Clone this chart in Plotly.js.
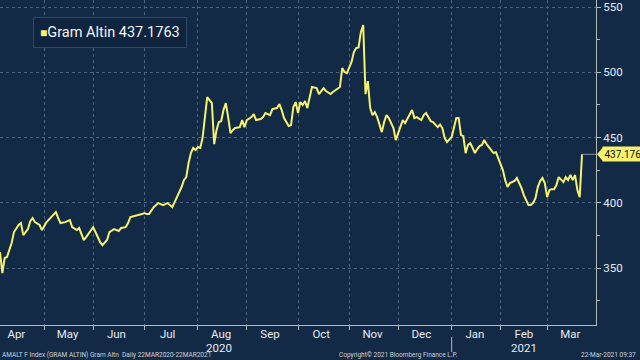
<!DOCTYPE html>
<html>
<head>
<meta charset="utf-8">
<script src="https://cdn.plot.ly/plotly-3.0.1.min.js"></script>
<style>
  html, body { margin: 0; padding: 0; background: #132a46; }
  #chart { width: 640px; height: 360px; }
</style>
</head>
<body>
<div id="chart"></div>
<script>
// ---- data ----
const dates = [
  '2020-04-06','2020-04-07','2020-04-08','2020-04-09','2020-04-13','2020-04-14','2020-04-16','2020-04-17',
  '2020-04-20','2020-04-21','2020-04-22','2020-04-23','2020-04-24','2020-04-27','2020-04-29','2020-04-30',
  '2020-05-04','2020-05-06','2020-05-08','2020-05-11','2020-05-12','2020-05-14','2020-05-18','2020-05-19',
  '2020-05-21','2020-05-22','2020-05-26','2020-05-27','2020-05-29','2020-06-01','2020-06-03','2020-06-04',
  '2020-06-05','2020-06-09','2020-06-10','2020-06-12','2020-06-16','2020-06-17','2020-06-19','2020-06-22',
  '2020-06-23','2020-06-25','2020-06-26','2020-06-30','2020-07-01','2020-07-02','2020-07-03','2020-07-07',
  '2020-07-09','2020-07-13','2020-07-15','2020-07-17','2020-07-20','2020-07-21','2020-07-23','2020-07-24',
  '2020-07-27','2020-07-28','2020-07-29','2020-07-30','2020-07-31','2020-08-03','2020-08-04','2020-08-05',
  '2020-08-06','2020-08-07','2020-08-10','2020-08-11','2020-08-12','2020-08-13','2020-08-14','2020-08-17',
  '2020-08-18','2020-08-19','2020-08-20','2020-08-21','2020-08-24','2020-08-25','2020-08-27','2020-08-28',
  '2020-08-31','2020-09-01','2020-09-03','2020-09-04','2020-09-07','2020-09-09','2020-09-10','2020-09-11',
  '2020-09-15','2020-09-16','2020-09-18','2020-09-21','2020-09-22','2020-09-23','2020-09-25','2020-09-28',
  '2020-09-29','2020-09-30','2020-10-01','2020-10-02','2020-10-05','2020-10-06','2020-10-07','2020-10-08',
  '2020-10-09','2020-10-13','2020-10-14','2020-10-15','2020-10-16','2020-10-19','2020-10-21','2020-10-22',
  '2020-10-23','2020-10-27','2020-10-28','2020-10-29','2020-10-30','2020-11-03','2020-11-04','2020-11-05',
  '2020-11-06','2020-11-09','2020-11-10','2020-11-11','2020-11-12','2020-11-13','2020-11-16','2020-11-17',
  '2020-11-18','2020-11-20','2020-11-23','2020-11-24','2020-11-25','2020-11-27','2020-11-30','2020-12-02',
  '2020-12-03','2020-12-04','2020-12-08','2020-12-09','2020-12-10','2020-12-11','2020-12-15','2020-12-16',
  '2020-12-17','2020-12-21','2020-12-22','2020-12-23','2020-12-24','2020-12-25','2020-12-28','2020-12-29',
  '2020-12-30','2021-01-01','2021-01-04','2021-01-05','2021-01-06','2021-01-07','2021-01-08','2021-01-11',
  '2021-01-12','2021-01-13','2021-01-14','2021-01-15','2021-01-18','2021-01-19','2021-01-20','2021-01-21',
  '2021-01-22','2021-01-25','2021-01-27','2021-01-28','2021-01-29','2021-02-01','2021-02-02','2021-02-03',
  '2021-02-04','2021-02-05','2021-02-09','2021-02-10','2021-02-11','2021-02-12','2021-02-15','2021-02-16',
  '2021-02-17','2021-02-18','2021-02-19','2021-02-22','2021-02-23','2021-02-24','2021-02-25','2021-02-26',
  '2021-03-01','2021-03-02','2021-03-03','2021-03-04','2021-03-05','2021-03-08','2021-03-09','2021-03-10',
  '2021-03-11','2021-03-12','2021-03-15','2021-03-16','2021-03-17','2021-03-18','2021-03-19','2021-03-22'
];
const gramAltin = [
  362.3,346.2,357.7,358.5,369.2,377.6,383.0,384.5,
  375.3,377.6,379.9,386.0,388.3,385.2,383.0,379.1,
  385.2,389.1,392.9,388.3,384.5,385.2,386.8,381.4,
  379.1,380.7,371.5,373.8,379.1,381.4,373.8,369.9,
  367.6,371.5,377.6,379.9,378.4,380.7,381.4,384.5,
  389.1,389.8,390.6,391.4,392.1,391.4,391.4,396.7,
  399.8,398.3,399.8,396.7,400.6,404.4,412.1,417.4,
  419.7,430.5,438.1,442.0,440.4,442.7,442.0,449.6,
  463.4,481.0,478.7,476.4,445.0,455.7,461.9,462.5,
  471.1,476.4,465.7,453.4,455.7,457.3,458.0,463.4,
  458.0,463.4,465.7,468.0,463.4,464.2,465.7,468.8,
  467.2,471.8,472.6,475.7,471.1,464.9,458.8,459.6,
  473.4,477.2,468.8,477.2,474.9,478.0,472.6,481.0,
  488.7,487.9,483.3,485.6,487.9,485.6,483.3,484.9,
  486.4,488.7,503.3,500.2,499.4,507.9,515.5,518.6,
  519.0,530.8,536.2,483.3,493.3,472.6,467.2,469.5,
  465.7,454.2,461.9,467.2,464.9,457.3,448.1,457.3,
  463.4,461.1,467.2,471.1,464.9,465.7,463.4,467.2,
  468.8,462.6,461.9,459.6,458.0,460.0,457.3,449.6,
  446.6,450.4,457.3,464.9,464.9,451.9,451.1,438.1,
  444.3,445.8,442.0,438.1,441.2,443.5,444.3,448.1,
  445.0,442.7,438.1,438.9,434.3,430.5,425.1,417.4,
  412.1,415.1,416.7,419.0,415.1,411.3,405.9,402.1,
  398.3,398.3,400.0,403.6,412.1,416.7,419.0,415.1,
  404.4,409.8,410.5,410.5,413.6,419.7,417.4,415.9,
  419.7,417.4,421.3,417.4,421.3,409.8,404.4,437.1763
];
const seriesName = 'Gram Altin';
const yTickVals = [350, 400, 450, 500, 550];
const yearLabels = ['2020', '2021'];
const yearLabelDates = ['2020-08-14', '2021-02-15'];
const yearSeparatorDate = '2021-01-01';
const monthStart0 = '2020-01-01';   // month boundary ticks / gridlines
const monthLabel0 = '2020-01-15';   // month labels sit mid-month
const xRange = ['2020-04-06', '2021-03-30'];
const yRange = [306.4, 555.4];
const footerLeft = 'AMALT F Index (GRAM ALTIN) Gram Altn  Daily 22MAR2020-22MAR2021';
const footerMid = 'Copyright\u00A9 2021 Bloomberg Finance L.P.';
const footerRight = '22-Mar-2021 09:37';

// ---- styles ----
const BG = '#132a46';
const YEL = '#f6f26c';
const AX = '#b3bcb4';
const GRID = '#4a6481';
const TXT = '#e6ebf0';
const FONT = 'Roboto, "Open Sans", sans-serif';

const lastDate = dates[dates.length - 1];
const lastVal = gramAltin[gramAltin.length - 1];
const weekendBreak = [{ bounds: ['sat', 'mon'] }];

const traces = [
  {
    type: 'scatter', mode: 'lines', x: dates, y: gramAltin,
    line: { color: YEL, width: 2 }, showlegend: false, hoverinfo: 'skip'
  },
  { // carrier for the month-label axis (invisible)
    type: 'scatter', mode: 'lines', x: dates, y: gramAltin, xaxis: 'x2', yaxis: 'y',
    line: { color: 'rgba(0,0,0,0)', width: 0 }, showlegend: false, hoverinfo: 'skip'
  }
];

const annotations = [
  {
    xref: 'paper', yref: 'paper', x: 0.0554, y: 1 - 17/325, xanchor: 'left', yanchor: 'top',
    text: '<span style="color:' + YEL + ';font-size:12px">\u25A0</span>' + seriesName + ' ' + lastVal.toFixed(4),
    showarrow: false, font: { family: FONT, size: 14.5, color: '#f2f5f8' },
    bgcolor: '#0f243e', bordercolor: '#2f4966', borderwidth: 1, borderpad: 6
  },
  {
    xref: 'paper', yref: 'y', x: 1, y: lastVal, xanchor: 'left', yanchor: 'middle', xshift: 6,
    text: lastVal.toFixed(3), showarrow: false,
    font: { family: FONT, size: 10, color: '#101010' },
    bgcolor: YEL, borderpad: 1.5
  },
  {
    xref: 'paper', yref: 'paper', x: 0, y: -24/325, xanchor: 'left', yanchor: 'top',
    text: footerLeft, showarrow: false, font: { family: FONT, size: 6.5, color: '#c9d1da' }
  },
  {
    xref: 'paper', yref: 'paper', x: 398/596, y: -24/325, xanchor: 'center', yanchor: 'top',
    text: footerMid, showarrow: false, font: { family: FONT, size: 6.5, color: '#c9d1da' }
  },
  {
    xref: 'paper', yref: 'paper', x: 1, y: -24/325, xanchor: 'right', yanchor: 'top', xshift: 42,
    text: footerRight, showarrow: false, font: { family: FONT, size: 6.5, color: '#c9d1da' }
  }
];
yearLabels.forEach((t, i) => annotations.push({
  xref: 'x', yref: 'paper', x: yearLabelDates[i], y: -14/325, xanchor: 'center', yanchor: 'top',
  text: t, showarrow: false, font: { family: FONT, size: 11.5, color: TXT }
}));

const shapes = [
  { type: 'line', xref: 'x', yref: 'y', x0: lastDate, x1: xRange[1], y0: lastVal, y1: lastVal,
    line: { color: '#8c959c', width: 1 } },
  { type: 'path', xref: 'paper', yref: 'y', xsizemode: 'pixel', ysizemode: 'pixel',
    xanchor: 1, yanchor: lastVal, path: 'M1,0 L7,-7 L7,7 Z', fillcolor: YEL, line: { width: 0 } },
  { type: 'line', xref: 'x', yref: 'paper', x0: yearSeparatorDate, x1: yearSeparatorDate,
    y0: -12/325, y1: -27/325, line: { color: AX, width: 1 } }
];

const layout = {
  width: 640, height: 360,
  margin: { l: 0, r: 44, t: 0, b: 35 },
  paper_bgcolor: BG, plot_bgcolor: BG,
  font: { family: FONT, color: TXT, size: 11.5 },
  showlegend: false,
  xaxis: {
    type: 'date', range: xRange, rangebreaks: weekendBreak,
    tick0: monthStart0, dtick: 'M1', showticklabels: false,
    ticks: 'outside', ticklen: 4, tickcolor: AX,
    showline: true, linecolor: AX, linewidth: 1,
    showgrid: true, gridcolor: GRID, griddash: 'dot', gridwidth: 1,
    zeroline: false, fixedrange: true
  },
  xaxis2: {
    type: 'date', range: xRange, rangebreaks: weekendBreak,
    overlaying: 'x', anchor: 'y', side: 'bottom',
    tick0: monthLabel0, dtick: 'M1', tickformat: '%b',
    ticks: '', showline: false, showgrid: false, zeroline: false, fixedrange: true,
    tickfont: { family: FONT, size: 11.5, color: TXT }
  },
  yaxis: {
    side: 'right', range: yRange,
    tickvals: yTickVals,
    ticks: 'outside', ticklen: 4, tickcolor: AX,
    minor: { dtick: 25, tick0: 0, ticks: 'outside', ticklen: 3, tickcolor: AX, showgrid: false },
    showline: true, linecolor: AX, linewidth: 1,
    showgrid: true, gridcolor: GRID, griddash: 'dot', gridwidth: 1,
    zeroline: false, fixedrange: true,
    tickfont: { family: FONT, size: 11.5, color: TXT }
  },
  annotations: annotations,
  shapes: shapes
};

Plotly.newPlot('chart', traces, layout, { staticPlot: true, displayModeBar: false });
</script>
</body>
</html>
